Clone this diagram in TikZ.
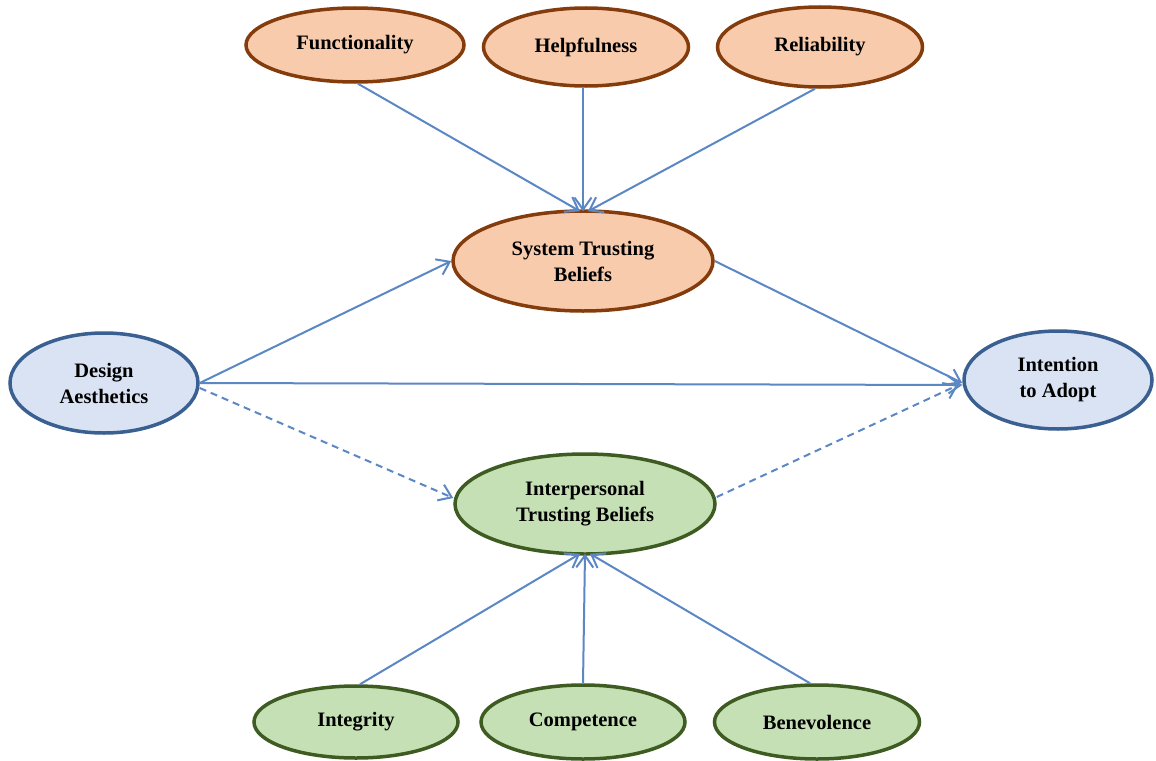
\documentclass[tikz,border=0pt]{standalone}
\usepackage{fontspec}
\setmainfont{Liberation Serif}
\usetikzlibrary{shapes.geometric,arrows.meta}
\definecolor{peachfill}{HTML}{F8CBAD}
\definecolor{peachline}{HTML}{843C0C}
\definecolor{bluefill}{HTML}{DAE3F3}
\definecolor{blueline}{HTML}{3A5F91}
\definecolor{greenfill}{HTML}{C5E0B4}
\definecolor{greenline}{HTML}{3E5C22}
\definecolor{arrowblue}{HTML}{5B87C5}
\begin{document}
\begin{tikzpicture}[x=1pt,y=-1pt,
  bubble/.style={ellipse, inner sep=0pt, line width=3.5pt, align=center,
    font=\fontsize{20.5}{26}\selectfont\bfseries},
  peachbub/.style={bubble, draw=peachline, fill=peachfill},
  bluebub/.style={bubble, draw=blueline, fill=bluefill},
  greenbub/.style={bubble, draw=greenline, fill=greenfill},
  link/.style={draw=arrowblue, line width=2pt, -{Straight Barb[length=12pt,width=17pt,line width=2pt]}},
  dlink/.style={link, dash pattern=on 7pt off 5pt}
]
\useasboundingbox (0,0) rectangle (1156,760);
\fill[white] (0,0) rectangle (1156,760);

\node[peachbub, minimum width=218pt, minimum height=74pt] (func) at (355,45) {Functionality};
\node[peachbub, minimum width=205pt, minimum height=78pt] (help) at (586,47) {Helpfulness};
\node[peachbub, minimum width=205pt, minimum height=80pt] (reli) at (820,47) {Reliability};
\node[peachbub, minimum width=260pt, minimum height=100pt] (stb) at (583,261) {System Trusting\\Beliefs};

\node[bluebub, minimum width=188pt, minimum height=100pt] (da) at (104,383) {Design\\Aesthetics};
\node[bluebub, minimum width=188pt, minimum height=98pt] (ia) at (1058,380) {Intention\\to Adopt};

\node[greenbub, minimum width=260pt, minimum height=100pt] (itb) at (585,504) {Interpersonal\\Trusting Beliefs};

\node[greenbub, minimum width=204pt, minimum height=72pt] (integ) at (356,722) {Integrity};
\node[greenbub, minimum width=204pt, minimum height=74pt] (comp) at (583,722) {Competence};
\node[greenbub, minimum width=205pt, minimum height=74pt] (bene) at (817,722) {Benevolence};

\draw[link] ([xshift=3pt]func.south) -- ([xshift=-3pt,yshift=-2pt]stb.north);
\draw[link] ([xshift=-3pt]help.south) -- ([yshift=-2pt]stb.north);
\draw[link] ([xshift=-5pt]reli.south) -- ([xshift=5pt,yshift=-2pt]stb.north);

\draw[link] (da.east) -- (stb.west);
\draw[link] (da.east) -- ([yshift=-5pt]ia.west);
\draw[dlink] ([yshift=-5pt]da.east) -- ([yshift=6pt]itb.west);
\draw[link] (stb.east) -- ([yshift=-3pt]ia.west);
\draw[dlink] ([yshift=7pt]itb.east) -- ([yshift=-5pt,xshift=-4pt]ia.west);

\draw[link] ([xshift=4pt]integ.north) -- ([xshift=-5pt,yshift=2pt]itb.south);
\draw[link] (comp.north) -- ([yshift=2pt]itb.south);
\draw[link] ([xshift=-7pt]bene.north) -- ([xshift=5pt,yshift=2pt]itb.south);
\end{tikzpicture}
\end{document}
